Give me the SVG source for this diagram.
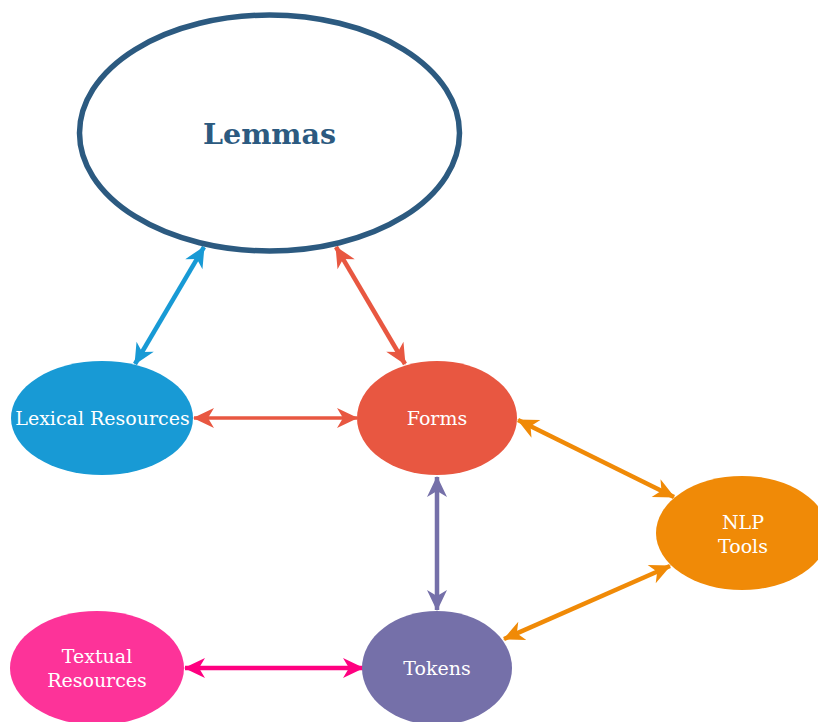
<svg xmlns="http://www.w3.org/2000/svg" width="818" height="722" viewBox="0 0 818 722">
<style>
.lbl{font-family:"DejaVu Serif","Liberation Serif",serif;font-size:19px;fill:#ffffff;text-anchor:middle}
.e{fill:none;stroke-linecap:butt}
</style>
<defs>
<marker id="mBlue" markerUnits="userSpaceOnUse" viewBox="-22 -11 24 22" refX="0" refY="0" markerWidth="24" markerHeight="22" orient="auto-start-reverse"><path d="M1,0 L-20,-10 L-14,0 L-20,10 Z" fill="#189ad5"/></marker>
<marker id="mRed" markerUnits="userSpaceOnUse" viewBox="-22 -11 24 22" refX="0" refY="0" markerWidth="24" markerHeight="22" orient="auto-start-reverse"><path d="M1,0 L-20,-10 L-14,0 L-20,10 Z" fill="#e85741"/></marker>
<marker id="mOrange" markerUnits="userSpaceOnUse" viewBox="-22 -11 24 22" refX="0" refY="0" markerWidth="24" markerHeight="22" orient="auto-start-reverse"><path d="M1,0 L-20,-10 L-14,0 L-20,10 Z" fill="#f08a07"/></marker>
<marker id="mPurple" markerUnits="userSpaceOnUse" viewBox="-22 -11 24 22" refX="0" refY="0" markerWidth="24" markerHeight="22" orient="auto-start-reverse"><path d="M1,0 L-20,-10 L-14,0 L-20,10 Z" fill="#7570a9"/></marker>
<marker id="mPink" markerUnits="userSpaceOnUse" viewBox="-22 -11 24 22" refX="0" refY="0" markerWidth="24" markerHeight="22" orient="auto-start-reverse"><path d="M1,0 L-20,-10 L-14,0 L-20,10 Z" fill="#ff0080"/></marker>
</defs>
<rect width="818" height="722" fill="#ffffff"/>
<g id="connectors">
<line class="e" x1="204" y1="247" x2="135" y2="364" stroke="#189ad5" stroke-width="4.5" marker-start="url(#mBlue)" marker-end="url(#mBlue)"/>
<line class="e" x1="336" y1="247" x2="405" y2="364" stroke="#e85741" stroke-width="4.5" marker-start="url(#mRed)" marker-end="url(#mRed)"/>
<line class="e" x1="194" y1="418" x2="357" y2="418" stroke="#e85741" stroke-width="3.5" marker-start="url(#mRed)" marker-end="url(#mRed)"/>
<line class="e" x1="518" y1="420" x2="674" y2="497" stroke="#f08a07" stroke-width="4.5" marker-start="url(#mOrange)" marker-end="url(#mOrange)"/>
<line class="e" x1="504" y1="639" x2="670" y2="566" stroke="#f08a07" stroke-width="4.5" marker-start="url(#mOrange)" marker-end="url(#mOrange)"/>
<line class="e" x1="437" y1="477" x2="437" y2="610" stroke="#7570a9" stroke-width="4.5" marker-start="url(#mPurple)" marker-end="url(#mPurple)"/>
<line class="e" x1="185" y1="668" x2="363" y2="668" stroke="#ff0080" stroke-width="4.5" marker-start="url(#mPink)" marker-end="url(#mPink)"/>
</g>
<g id="lemmas">
<ellipse cx="269.5" cy="133" rx="190" ry="118" fill="#ffffff" stroke="#2c5a80" stroke-width="5.5"/>
<text x="269.5" y="144" font-family="DejaVu Serif, Liberation Serif, serif" font-size="28.5" font-weight="bold" fill="#2c5a80" text-anchor="middle">Lemmas</text>
</g>
<g id="lexical">
<ellipse cx="102" cy="418" rx="91" ry="57" fill="#189ad5"/>
<text class="lbl" x="102.5" y="425">Lexical Resources</text>
</g>
<g id="forms">
<ellipse cx="437" cy="418" rx="80" ry="57" fill="#e85741"/>
<text class="lbl" x="437" y="425">Forms</text>
</g>
<g id="nlp">
<ellipse cx="742" cy="533" rx="86" ry="57" fill="#f08a07"/>
<text class="lbl" x="743" y="529">NLP</text>
<text class="lbl" x="743" y="553">Tools</text>
</g>
<g id="tokens">
<ellipse cx="437" cy="668" rx="75" ry="57" fill="#7570a9"/>
<text class="lbl" x="437" y="675">Tokens</text>
</g>
<g id="textual">
<ellipse cx="97" cy="668" rx="87" ry="57" fill="#fd3399"/>
<text class="lbl" x="97" y="663">Textual</text>
<text class="lbl" x="97" y="687">Resources</text>
</g>
</svg>
